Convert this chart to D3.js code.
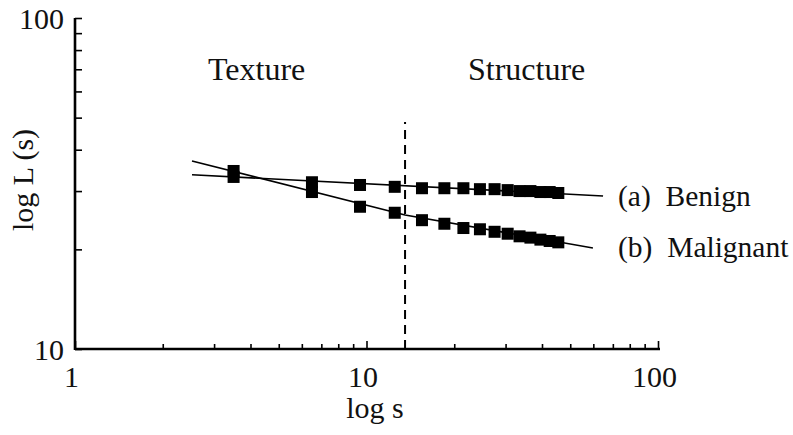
<!DOCTYPE html>
<html><head><meta charset="utf-8">
<script src="https://cdn.jsdelivr.net/npm/d3@7"></script>
<style>
html,body{margin:0;padding:0;background:#fff;}
svg{display:block;}
</style></head>
<body>
<svg id="chart" width="793" height="435"></svg>
<script>
// Data
const scales = [3.5, 6.5, 9.5, 12.5, 15.5, 18.5, 21.5, 24.5, 27.5, 30.5, 33.5, 36.5, 39.5, 42.5, 45.5];
const benign = [33.1, 31.9, 31.3, 30.9, 30.6, 30.6, 30.6, 30.4, 30.4, 30.2, 30.0, 30.0, 29.8, 29.8, 29.6];
const malignant = [34.5, 29.8, 26.9, 25.8, 24.5, 23.9, 23.2, 23.0, 22.6, 22.3, 21.9, 21.7, 21.4, 21.2, 21.0];
// fitted lines (endpoints / knots)
const benignFitX = [2.52, 64.8];
const benignFitY = [33.6, 29.0];
const malignantFitX = [2.52, 13.56, 59.8];
const malignantFitY = [37.0, 25.4, 20.2];
const dividerX = 13.56;
const dividerY = [10, 48.5];
const xTicks = [1,2,3,4,5,6,7,8,9,10,20,30,40,50,60,70,80,90,100];
const yTicks = [10,20,30,40,50,60,70,80,90,100];
const xTickLabels = ["1","10","100"];
const yTickLabels = ["10","100"];
const regionLabels = ["Texture","Structure"];
const regionLabelX = [2.86, 22.3];
const seriesLabels = ["(a)  Benign", "(b)  Malignant"];

const FONT = "'Liberation Serif', 'DejaVu Serif', monospace";
const svg = d3.select("#chart");
const x = d3.scaleLog().domain([1,100]).range([75,658]);
const y = d3.scaleLog().domain([10,100]).range([349,18]);

function txt(sel, size){ return sel.style("font-family",FONT).style("font-size",size+"px").attr("fill","#111"); }

// X axis
const xAxis = d3.axisBottom(x).tickValues(xTicks).tickSizeOuter(0)
  .tickFormat(d => xTickLabels.includes(String(d)) ? String(d) : "");
const gx = svg.append("g").attr("transform","translate(0,349)").call(xAxis).attr("font-family",null);
gx.select(".domain").attr("stroke","#000").attr("stroke-width",2.6).attr("d","M75,0H660");
gx.selectAll(".tick line").attr("stroke","#000").attr("stroke-width",1.6)
  .attr("y2", d => xTickLabels.includes(String(d)) ? -8 : -5);
txt(gx.selectAll(".tick text").attr("y",38).attr("dy",0).attr("dx",-4), 30);

// Y axis
const yAxis = d3.axisLeft(y).tickValues(yTicks).tickSizeOuter(0)
  .tickFormat(d => yTickLabels.includes(String(d)) ? String(d) : "");
const gy = svg.append("g").attr("transform","translate(75,0)").call(yAxis).attr("font-family",null);
gy.select(".domain").attr("stroke","#000").attr("stroke-width",2.6).attr("d","M0,18V350");
gy.selectAll(".tick line").attr("stroke","#000").attr("stroke-width",1.6).attr("x2",7);
txt(gy.selectAll(".tick text").attr("x",-11).attr("dy","0.35em"), 30);

// axis titles
txt(svg.append("text").attr("x",375).attr("y",418).attr("text-anchor","middle"), 30).text("log s");
txt(svg.append("text").attr("transform","translate(33,180) rotate(-90)").attr("text-anchor","middle"), 30).text("log L (s)");

// divider
svg.append("line").attr("x1",x(dividerX)).attr("x2",x(dividerX))
  .attr("y1",y(dividerY[0])).attr("y2",y(dividerY[1]))
  .attr("stroke","#000").attr("stroke-width",2).attr("stroke-dasharray","9,6");

// region labels
txt(svg.selectAll(".region").data(regionLabels).enter().append("text")
  .attr("x",(d,i)=>x(regionLabelX[i])).attr("y",80).attr("text-anchor","start"), 32).text(d=>d);

// fit lines
const line = d3.line().x(d=>x(d[0])).y(d=>y(d[1]));
svg.append("path").datum(benignFitX.map((v,i)=>[v,benignFitY[i]]))
  .attr("d",line).attr("fill","none").attr("stroke","#000").attr("stroke-width",1.6);
svg.append("path").datum(malignantFitX.map((v,i)=>[v,malignantFitY[i]]))
  .attr("d",line).attr("fill","none").attr("stroke","#000").attr("stroke-width",1.6);

// markers
const S = 12;
function squares(vals){
  svg.append("g").selectAll("rect").data(scales.map((s,i)=>[s,vals[i]])).enter().append("rect")
    .attr("x",d=>x(d[0])-S/2).attr("y",d=>y(d[1])-S/2)
    .attr("width",S).attr("height",S).attr("fill","#000");
}
squares(benign);
squares(malignant);

// series labels
txt(svg.append("text").attr("x",618).attr("y",206), 29.5)
  .attr("xml:space","preserve").style("white-space","pre").text(seriesLabels[0]);
txt(svg.append("text").attr("x",618).attr("y",257), 29.5)
  .attr("xml:space","preserve").style("white-space","pre").text(seriesLabels[1]);
</script>
</body></html>
